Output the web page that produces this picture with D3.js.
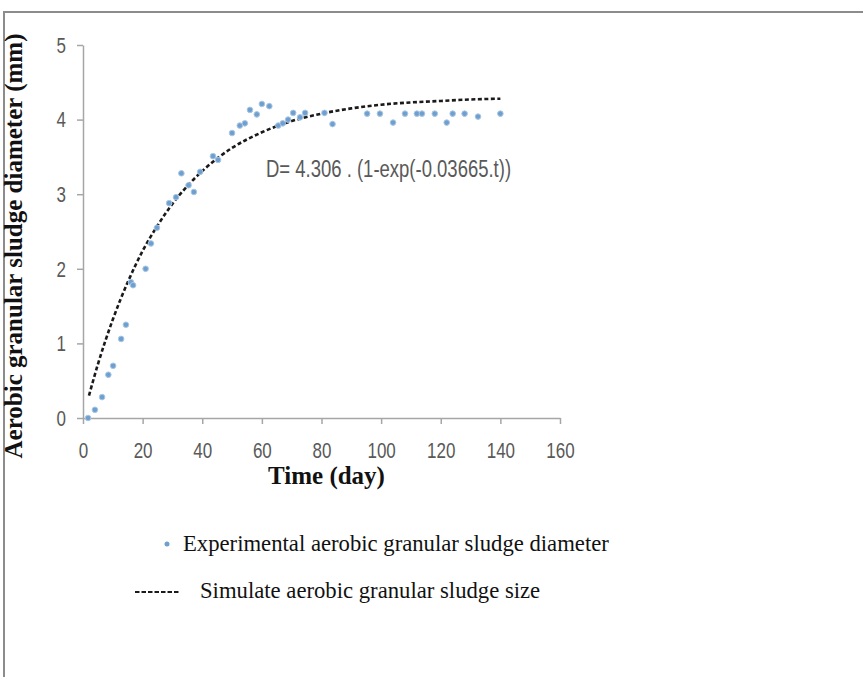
<!DOCTYPE html>
<html lang="en">
<head>
  <meta charset="UTF-8">
  <title>Aerobic granular sludge diameter</title>
  <script src="https://d3js.org/d3.v7.min.js"></script>
  <style>
    body { margin: 0; background: #fff; overflow: hidden; }
    svg { display: block; }
    .tick text { font-family: "Liberation Sans", Arial, sans-serif; font-size: 17px; fill: #595959; }
    .axis path, .axis line { stroke: #a6a6a6; stroke-width: 1.5; }
    .serif { font-family: "Liberation Serif", "Times New Roman", serif; fill: #111; }
  </style>
</head>
<body>
  <svg width="863" height="677"></svg>
  <script>
    // experimental points (day, mm)
    const expDays = [1.7, 4, 6.4, 8.5, 10.1, 12.8, 14.4, 16.1, 16.8, 21, 22.8, 24.8, 28.9, 31.2, 33, 35.4, 37.2, 39.3,
      43.6, 45.3, 50, 52.6, 54.3, 56, 58.3, 60, 62.5, 65.5, 67, 68.8, 70.5, 72.8, 74.5, 81, 83.7,
      95.3, 99.6, 104, 108, 112, 113.7, 118, 122, 124, 128, 132.5, 140];
    const expDiam = [0.0, 0.11, 0.28, 0.58, 0.70, 1.06, 1.25, 1.82, 1.78, 2.0, 2.34, 2.55, 2.88, 2.96, 3.28, 3.12, 3.03, 3.30,
      3.51, 3.46, 3.82, 3.92, 3.95, 4.13, 4.07, 4.21, 4.18, 3.92, 3.95, 4.0, 4.09, 4.03, 4.09, 4.09, 3.94,
      4.08, 4.08, 3.96, 4.08, 4.08, 4.08, 4.08, 3.96, 4.08, 4.08, 4.04, 4.08];

    // simulated curve
    const simDays = [2, 5, 10, 15, 20, 25, 30, 35, 40, 45, 50, 60, 70, 80, 90, 100, 110, 120, 130, 140];
    const simDiam = [0.30, 0.72, 1.32, 1.82, 2.24, 2.58, 2.87, 3.11, 3.31, 3.48, 3.62, 3.83, 3.98, 4.08, 4.15, 4.20, 4.23, 4.25, 4.27, 4.28];

    const xTicks = [0, 20, 40, 60, 80, 100, 120, 140, 160];
    const yTicks = [0, 1, 2, 3, 4, 5];

    const svg = d3.select("svg");

    // frame of the cropped figure
    svg.append("path")
      .attr("d", "M4,677 L4,12 L863,12")
      .attr("fill", "none")
      .attr("stroke", "#8c8c8c")
      .attr("stroke-width", 2);

    const x = d3.scaleLinear().domain([0, 160]).range([83, 560]);
    const y = d3.scaleLinear().domain([0, 5]).range([418, 45]);
    const sy = 1.35;

    const gx = svg.append("g")
      .attr("class", "axis")
      .attr("transform", `translate(0, ${y(0)})`)
      .call(d3.axisBottom(x).tickValues(xTicks).tickSize(6).tickSizeOuter(0));
    gx.selectAll("text")
      .attr("transform", `scale(1, ${sy})`)
      .attr("y", 24 / sy)
      .attr("dy", "0.71em");

    const gy = svg.append("g")
      .attr("class", "axis")
      .attr("transform", `translate(${x(0)}, 0)`)
      .call(d3.axisLeft(y).tickValues(yTicks).tickFormat(d3.format("d")).tickSize(6).tickSizeOuter(0));
    gy.selectAll("text")
      .attr("x", -17)
      .attr("transform", `scale(1, ${sy})`);

    // simulated curve
    const line = d3.line()
      .x((d, i) => x(simDays[i]))
      .y(d => y(d))
      .curve(d3.curveMonotoneX);
    svg.append("path")
      .datum(simDiam)
      .attr("d", line)
      .attr("fill", "none")
      .attr("stroke", "#1a1a1a")
      .attr("stroke-width", 2.6)
      .attr("stroke-dasharray", "4,2.5");

    // experimental points
    svg.selectAll(".pt")
      .data(expDiam)
      .enter().append("circle")
      .attr("class", "pt")
      .attr("cx", (d, i) => x(expDays[i]))
      .attr("cy", d => y(d))
      .attr("r", 2.8)
      .attr("fill", "#6f9fce")
      .attr("stroke", "#a9c8e6")
      .attr("stroke-width", 1);

    // equation
    svg.append("text")
      .attr("transform", `translate(266, 177) scale(1, 1.3)`)
      .style("font-family", "Liberation Sans, Arial, sans-serif")
      .style("font-size", "18.5px")
      .style("fill", "#595959")
      .text("D= 4.306 . (1-exp(-0.03665.t))");

    // axis titles
    svg.append("text")
      .attr("class", "serif")
      .attr("transform", `translate(${x(80) + 5}, 484)`)
      .attr("text-anchor", "middle")
      .style("font-size", "25px")
      .style("font-weight", "bold")
      .text("Time (day)");

    svg.append("text")
      .attr("class", "serif")
      .attr("transform", "translate(22, 246) rotate(-90)")
      .attr("text-anchor", "middle")
      .style("font-size", "25px")
      .style("font-weight", "bold")
      .text("Aerobic granular sludge diameter (mm)");

    // legend
    svg.append("circle")
      .attr("cx", 167).attr("cy", 544).attr("r", 2.5)
      .attr("fill", "#6f9fce");
    svg.append("text")
      .attr("class", "serif")
      .attr("transform", "translate(183, 551)")
      .style("font-size", "22.7px")
      .text("Experimental aerobic granular sludge diameter");

    svg.append("line")
      .attr("x1", 135).attr("x2", 180)
      .attr("y1", 592).attr("y2", 592)
      .attr("stroke", "#1a1a1a")
      .attr("stroke-width", 1.8)
      .attr("stroke-dasharray", "4.5,2");
    svg.append("text")
      .attr("class", "serif")
      .attr("transform", "translate(200, 598)")
      .style("font-size", "22.7px")
      .text("Simulate aerobic granular sludge size");
  </script>
</body>
</html>
